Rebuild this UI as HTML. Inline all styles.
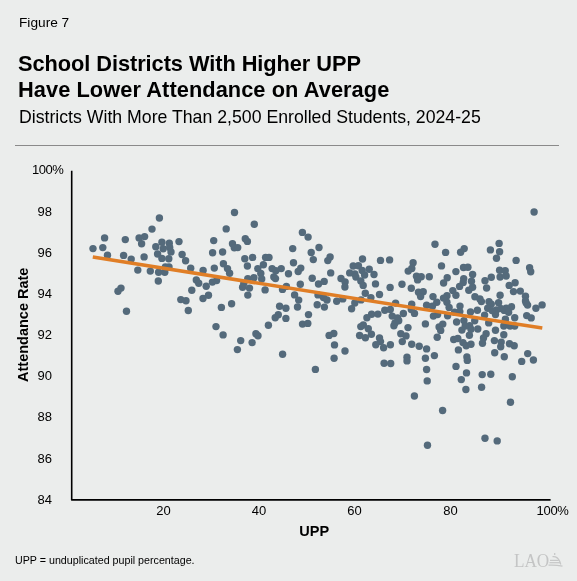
<!DOCTYPE html>
<html><head><meta charset="utf-8">
<style>
html,body{margin:0;padding:0;}
body{width:577px;height:581px;background:#ebedec;position:relative;overflow:hidden;font-family:"Liberation Sans",sans-serif;color:#000;}
.t{position:absolute;white-space:nowrap;will-change:transform;}
#fig{left:18.7px;top:15.4px;font-size:13.7px;}
.tt{font-size:21.8px;font-weight:bold;line-height:26px;left:18px;transform:scaleY(1.04);transform-origin:0 19px;}
#t1{top:50.5px;letter-spacing:-0.065px;}
#t2{top:76.5px;letter-spacing:0.06px;}
#sub{left:19px;top:107px;font-size:17.7px;}
#rule{position:absolute;left:15px;top:145px;width:544px;height:1px;background:#8a8a8a;}
svg{position:absolute;left:0;top:0;will-change:transform;}
.yl{font-size:13px;text-anchor:end;}
.xl{font-size:13px;text-anchor:middle;}
#note{left:15px;top:554px;font-size:10.7px;}
#lao{left:514px;top:550px;font-family:"Liberation Serif",serif;font-size:17.2px;color:#c4c5c5;letter-spacing:-0.1px;transform:scaleY(1.1);transform-origin:0 0;}
</style></head><body>
<div class="t" id="fig">Figure 7</div>
<div class="t tt" id="t1">School Districts With Higher UPP</div>
<div class="t tt" id="t2">Have Lower Attendance on Average</div>
<div class="t" id="sub">Districts With More Than 2,500 Enrolled Students, 2024-25</div>
<div id="rule"></div>
<svg width="577" height="581" viewBox="0 0 577 581" font-family="Liberation Sans, sans-serif">
<g class="yl">
<text x="63.4" y="174" letter-spacing="-0.45">100%</text>
<text x="52" y="215.5">98</text>
<text x="52" y="256.5">96</text>
<text x="52" y="297.5">94</text>
<text x="52" y="338.5">92</text>
<text x="52" y="379.5">90</text>
<text x="52" y="420.5">88</text>
<text x="52" y="463.2">86</text>
<text x="52" y="503.5">84</text>
</g>
<g class="xl">
<text x="163.4" y="515">20</text>
<text x="258.9" y="515">40</text>
<text x="354.5" y="515">60</text>
<text x="450.5" y="515">80</text>
<text x="552.6" y="515" letter-spacing="-0.3">100%</text>
</g>
<path d="M71.7 170.8 V499.9 H550.6" fill="none" stroke="#000" stroke-width="1.6" stroke-linejoin="round"/>
<text x="314.2" y="535.8" font-size="14.5" font-weight="bold" text-anchor="middle">UPP</text>
<text transform="translate(28.2 324.8) rotate(-90)" font-size="14.5" font-weight="bold" text-anchor="middle">Attendance Rate</text>
<g fill="#546a7b">
<circle cx="93.0" cy="248.6" r="3.7"/>
<circle cx="102.8" cy="247.6" r="3.7"/>
<circle cx="104.6" cy="237.9" r="3.7"/>
<circle cx="107.5" cy="255.2" r="3.7"/>
<circle cx="125.3" cy="239.6" r="3.7"/>
<circle cx="123.6" cy="255.4" r="3.7"/>
<circle cx="131.2" cy="259.1" r="3.7"/>
<circle cx="139.1" cy="237.9" r="3.7"/>
<circle cx="144.6" cy="236.6" r="3.7"/>
<circle cx="141.6" cy="243.8" r="3.7"/>
<circle cx="144.1" cy="256.9" r="3.7"/>
<circle cx="152.0" cy="229.1" r="3.7"/>
<circle cx="159.4" cy="218.0" r="3.7"/>
<circle cx="155.8" cy="246.7" r="3.7"/>
<circle cx="161.9" cy="242.3" r="3.7"/>
<circle cx="169.3" cy="243.2" r="3.7"/>
<circle cx="163.2" cy="248.8" r="3.7"/>
<circle cx="169.7" cy="247.5" r="3.7"/>
<circle cx="171.0" cy="251.9" r="3.7"/>
<circle cx="157.6" cy="254.0" r="3.7"/>
<circle cx="161.9" cy="258.4" r="3.7"/>
<circle cx="168.8" cy="258.8" r="3.7"/>
<circle cx="137.8" cy="270.1" r="3.7"/>
<circle cx="150.3" cy="271.1" r="3.7"/>
<circle cx="158.6" cy="272.2" r="3.7"/>
<circle cx="164.8" cy="272.2" r="3.7"/>
<circle cx="165.4" cy="267.0" r="3.7"/>
<circle cx="169.0" cy="267.0" r="3.7"/>
<circle cx="158.3" cy="281.0" r="3.7"/>
<circle cx="185.6" cy="260.7" r="3.7"/>
<circle cx="182.1" cy="254.5" r="3.7"/>
<circle cx="179.0" cy="241.6" r="3.7"/>
<circle cx="190.7" cy="268.3" r="3.7"/>
<circle cx="213.7" cy="240.6" r="3.7"/>
<circle cx="226.2" cy="228.9" r="3.7"/>
<circle cx="234.5" cy="212.5" r="3.7"/>
<circle cx="232.5" cy="243.7" r="3.7"/>
<circle cx="234.3" cy="247.8" r="3.7"/>
<circle cx="203.1" cy="270.4" r="3.7"/>
<circle cx="212.6" cy="252.7" r="3.7"/>
<circle cx="222.6" cy="252.0" r="3.7"/>
<circle cx="214.3" cy="268.1" r="3.7"/>
<circle cx="223.4" cy="263.7" r="3.7"/>
<circle cx="227.5" cy="268.6" r="3.7"/>
<circle cx="229.6" cy="273.3" r="3.7"/>
<circle cx="196.3" cy="280.0" r="3.7"/>
<circle cx="198.7" cy="283.2" r="3.7"/>
<circle cx="206.2" cy="286.3" r="3.7"/>
<circle cx="212.4" cy="282.1" r="3.7"/>
<circle cx="216.6" cy="280.6" r="3.7"/>
<circle cx="254.3" cy="224.2" r="3.7"/>
<circle cx="245.3" cy="238.7" r="3.7"/>
<circle cx="247.4" cy="241.4" r="3.7"/>
<circle cx="237.7" cy="247.6" r="3.7"/>
<circle cx="244.8" cy="258.7" r="3.7"/>
<circle cx="252.6" cy="257.4" r="3.7"/>
<circle cx="247.4" cy="266.0" r="3.7"/>
<circle cx="265.6" cy="257.4" r="3.7"/>
<circle cx="269.0" cy="257.4" r="3.7"/>
<circle cx="263.4" cy="264.7" r="3.7"/>
<circle cx="257.8" cy="268.6" r="3.7"/>
<circle cx="260.8" cy="273.4" r="3.7"/>
<circle cx="261.7" cy="279.0" r="3.7"/>
<circle cx="247.8" cy="278.6" r="3.7"/>
<circle cx="253.9" cy="277.7" r="3.7"/>
<circle cx="272.1" cy="268.6" r="3.7"/>
<circle cx="281.2" cy="268.6" r="3.7"/>
<circle cx="273.8" cy="276.9" r="3.7"/>
<circle cx="275.5" cy="278.6" r="3.7"/>
<circle cx="288.5" cy="273.8" r="3.7"/>
<circle cx="242.6" cy="287.3" r="3.7"/>
<circle cx="249.5" cy="288.1" r="3.7"/>
<circle cx="247.8" cy="295.1" r="3.7"/>
<circle cx="265.1" cy="289.9" r="3.7"/>
<circle cx="282.5" cy="289.4" r="3.7"/>
<circle cx="286.4" cy="286.4" r="3.7"/>
<circle cx="302.4" cy="232.4" r="3.7"/>
<circle cx="308.1" cy="237.1" r="3.7"/>
<circle cx="292.7" cy="248.6" r="3.7"/>
<circle cx="319.0" cy="247.5" r="3.7"/>
<circle cx="311.2" cy="252.5" r="3.7"/>
<circle cx="313.3" cy="259.6" r="3.7"/>
<circle cx="330.1" cy="257.0" r="3.7"/>
<circle cx="327.8" cy="260.6" r="3.7"/>
<circle cx="293.5" cy="262.7" r="3.7"/>
<circle cx="300.8" cy="268.1" r="3.7"/>
<circle cx="298.2" cy="271.5" r="3.7"/>
<circle cx="330.7" cy="272.9" r="3.7"/>
<circle cx="312.2" cy="278.3" r="3.7"/>
<circle cx="318.5" cy="284.0" r="3.7"/>
<circle cx="324.2" cy="281.4" r="3.7"/>
<circle cx="300.3" cy="284.3" r="3.7"/>
<circle cx="294.6" cy="294.9" r="3.7"/>
<circle cx="298.7" cy="300.1" r="3.7"/>
<circle cx="318.0" cy="294.9" r="3.7"/>
<circle cx="323.5" cy="297.5" r="3.7"/>
<circle cx="327.0" cy="300.0" r="3.7"/>
<circle cx="336.7" cy="301.2" r="3.7"/>
<circle cx="362.5" cy="259.0" r="3.7"/>
<circle cx="380.5" cy="260.4" r="3.7"/>
<circle cx="389.6" cy="259.9" r="3.7"/>
<circle cx="353.2" cy="266.0" r="3.7"/>
<circle cx="358.4" cy="265.8" r="3.7"/>
<circle cx="349.7" cy="272.9" r="3.7"/>
<circle cx="369.2" cy="269.3" r="3.7"/>
<circle cx="362.2" cy="270.5" r="3.7"/>
<circle cx="354.9" cy="274.0" r="3.7"/>
<circle cx="364.6" cy="275.0" r="3.7"/>
<circle cx="355.9" cy="277.1" r="3.7"/>
<circle cx="360.8" cy="280.9" r="3.7"/>
<circle cx="363.2" cy="285.4" r="3.7"/>
<circle cx="374.0" cy="274.5" r="3.7"/>
<circle cx="375.5" cy="283.9" r="3.7"/>
<circle cx="341.0" cy="278.5" r="3.7"/>
<circle cx="345.1" cy="282.0" r="3.7"/>
<circle cx="344.9" cy="287.0" r="3.7"/>
<circle cx="390.1" cy="287.4" r="3.7"/>
<circle cx="365.3" cy="293.3" r="3.7"/>
<circle cx="370.9" cy="297.6" r="3.7"/>
<circle cx="379.5" cy="294.5" r="3.7"/>
<circle cx="361.0" cy="299.9" r="3.7"/>
<circle cx="354.8" cy="303.0" r="3.7"/>
<circle cx="342.8" cy="298.9" r="3.7"/>
<circle cx="351.6" cy="308.8" r="3.7"/>
<circle cx="435.0" cy="244.2" r="3.7"/>
<circle cx="445.6" cy="252.4" r="3.7"/>
<circle cx="413.1" cy="262.8" r="3.7"/>
<circle cx="411.8" cy="268.5" r="3.7"/>
<circle cx="408.2" cy="271.1" r="3.7"/>
<circle cx="416.5" cy="276.3" r="3.7"/>
<circle cx="421.2" cy="276.8" r="3.7"/>
<circle cx="417.6" cy="279.9" r="3.7"/>
<circle cx="429.3" cy="276.8" r="3.7"/>
<circle cx="441.5" cy="265.9" r="3.7"/>
<circle cx="447.2" cy="277.8" r="3.7"/>
<circle cx="443.6" cy="283.0" r="3.7"/>
<circle cx="402.0" cy="284.3" r="3.7"/>
<circle cx="411.3" cy="288.2" r="3.7"/>
<circle cx="499.1" cy="243.4" r="3.7"/>
<circle cx="490.4" cy="249.9" r="3.7"/>
<circle cx="499.6" cy="251.7" r="3.7"/>
<circle cx="464.2" cy="248.6" r="3.7"/>
<circle cx="460.6" cy="252.2" r="3.7"/>
<circle cx="496.5" cy="258.3" r="3.7"/>
<circle cx="463.5" cy="267.5" r="3.7"/>
<circle cx="467.9" cy="267.2" r="3.7"/>
<circle cx="455.9" cy="271.6" r="3.7"/>
<circle cx="472.6" cy="274.4" r="3.7"/>
<circle cx="463.7" cy="278.6" r="3.7"/>
<circle cx="471.5" cy="281.2" r="3.7"/>
<circle cx="459.6" cy="286.4" r="3.7"/>
<circle cx="468.8" cy="290.2" r="3.7"/>
<circle cx="452.8" cy="290.6" r="3.7"/>
<circle cx="455.9" cy="295.2" r="3.7"/>
<circle cx="491.3" cy="277.2" r="3.7"/>
<circle cx="485.0" cy="280.7" r="3.7"/>
<circle cx="486.6" cy="288.0" r="3.7"/>
<circle cx="499.6" cy="270.3" r="3.7"/>
<circle cx="500.1" cy="277.0" r="3.7"/>
<circle cx="447.0" cy="295.8" r="3.7"/>
<circle cx="446.9" cy="302.3" r="3.7"/>
<circle cx="449.1" cy="307.4" r="3.7"/>
<circle cx="474.9" cy="296.7" r="3.7"/>
<circle cx="479.9" cy="299.0" r="3.7"/>
<circle cx="489.0" cy="301.8" r="3.7"/>
<circle cx="491.3" cy="304.1" r="3.7"/>
<circle cx="500.1" cy="295.2" r="3.7"/>
<circle cx="498.6" cy="302.8" r="3.7"/>
<circle cx="460.0" cy="306.1" r="3.7"/>
<circle cx="534.1" cy="212.0" r="3.7"/>
<circle cx="516.1" cy="260.4" r="3.7"/>
<circle cx="529.6" cy="267.7" r="3.7"/>
<circle cx="530.7" cy="271.8" r="3.7"/>
<circle cx="505.2" cy="270.8" r="3.7"/>
<circle cx="506.2" cy="276.0" r="3.7"/>
<circle cx="515.1" cy="282.8" r="3.7"/>
<circle cx="509.2" cy="285.4" r="3.7"/>
<circle cx="513.5" cy="291.6" r="3.7"/>
<circle cx="520.3" cy="291.1" r="3.7"/>
<circle cx="525.5" cy="296.3" r="3.7"/>
<circle cx="525.5" cy="301.0" r="3.7"/>
<circle cx="527.6" cy="305.1" r="3.7"/>
<circle cx="542.1" cy="304.9" r="3.7"/>
<circle cx="535.9" cy="308.2" r="3.7"/>
<circle cx="511.5" cy="306.8" r="3.7"/>
<circle cx="506.2" cy="308.2" r="3.7"/>
<circle cx="121.0" cy="288.1" r="3.7"/>
<circle cx="118.0" cy="291.2" r="3.7"/>
<circle cx="126.5" cy="311.2" r="3.7"/>
<circle cx="180.8" cy="299.6" r="3.7"/>
<circle cx="186.0" cy="300.8" r="3.7"/>
<circle cx="188.3" cy="310.5" r="3.7"/>
<circle cx="208.5" cy="295.2" r="3.7"/>
<circle cx="203.0" cy="298.5" r="3.7"/>
<circle cx="221.4" cy="307.4" r="3.7"/>
<circle cx="231.6" cy="303.7" r="3.7"/>
<circle cx="216.0" cy="326.6" r="3.7"/>
<circle cx="223.1" cy="334.9" r="3.7"/>
<circle cx="240.7" cy="340.6" r="3.7"/>
<circle cx="297.5" cy="307.0" r="3.7"/>
<circle cx="279.6" cy="306.2" r="3.7"/>
<circle cx="285.9" cy="308.3" r="3.7"/>
<circle cx="278.3" cy="314.8" r="3.7"/>
<circle cx="275.2" cy="317.7" r="3.7"/>
<circle cx="285.9" cy="318.4" r="3.7"/>
<circle cx="268.4" cy="325.2" r="3.7"/>
<circle cx="255.9" cy="333.7" r="3.7"/>
<circle cx="258.0" cy="335.8" r="3.7"/>
<circle cx="252.1" cy="342.6" r="3.7"/>
<circle cx="302.5" cy="324.1" r="3.7"/>
<circle cx="317.2" cy="304.7" r="3.7"/>
<circle cx="324.4" cy="307.1" r="3.7"/>
<circle cx="308.5" cy="314.6" r="3.7"/>
<circle cx="307.8" cy="323.4" r="3.7"/>
<circle cx="329.1" cy="335.4" r="3.7"/>
<circle cx="333.8" cy="333.5" r="3.7"/>
<circle cx="334.5" cy="344.9" r="3.7"/>
<circle cx="345.0" cy="351.0" r="3.7"/>
<circle cx="334.1" cy="358.2" r="3.7"/>
<circle cx="395.6" cy="303.1" r="3.7"/>
<circle cx="411.7" cy="304.2" r="3.7"/>
<circle cx="414.5" cy="313.4" r="3.7"/>
<circle cx="384.8" cy="310.2" r="3.7"/>
<circle cx="390.3" cy="309.5" r="3.7"/>
<circle cx="403.4" cy="313.5" r="3.7"/>
<circle cx="371.6" cy="314.3" r="3.7"/>
<circle cx="377.9" cy="314.1" r="3.7"/>
<circle cx="366.9" cy="317.7" r="3.7"/>
<circle cx="392.2" cy="316.1" r="3.7"/>
<circle cx="397.6" cy="318.0" r="3.7"/>
<circle cx="398.7" cy="320.8" r="3.7"/>
<circle cx="395.0" cy="322.9" r="3.7"/>
<circle cx="393.9" cy="325.8" r="3.7"/>
<circle cx="360.8" cy="326.6" r="3.7"/>
<circle cx="363.3" cy="325.0" r="3.7"/>
<circle cx="368.3" cy="328.7" r="3.7"/>
<circle cx="371.4" cy="334.2" r="3.7"/>
<circle cx="359.6" cy="335.5" r="3.7"/>
<circle cx="365.4" cy="337.8" r="3.7"/>
<circle cx="408.0" cy="327.6" r="3.7"/>
<circle cx="400.8" cy="333.8" r="3.7"/>
<circle cx="406.0" cy="335.9" r="3.7"/>
<circle cx="402.3" cy="341.6" r="3.7"/>
<circle cx="411.7" cy="344.2" r="3.7"/>
<circle cx="379.5" cy="338.0" r="3.7"/>
<circle cx="380.5" cy="341.6" r="3.7"/>
<circle cx="375.8" cy="344.7" r="3.7"/>
<circle cx="383.6" cy="347.8" r="3.7"/>
<circle cx="390.4" cy="344.7" r="3.7"/>
<circle cx="407.0" cy="357.2" r="3.7"/>
<circle cx="436.8" cy="302.2" r="3.7"/>
<circle cx="426.6" cy="305.2" r="3.7"/>
<circle cx="432.4" cy="306.2" r="3.7"/>
<circle cx="433.4" cy="316.1" r="3.7"/>
<circle cx="437.6" cy="314.6" r="3.7"/>
<circle cx="425.4" cy="323.9" r="3.7"/>
<circle cx="439.1" cy="327.0" r="3.7"/>
<circle cx="437.2" cy="337.2" r="3.7"/>
<circle cx="453.7" cy="339.5" r="3.7"/>
<circle cx="457.8" cy="338.5" r="3.7"/>
<circle cx="463.0" cy="342.6" r="3.7"/>
<circle cx="466.2" cy="345.8" r="3.7"/>
<circle cx="458.4" cy="349.9" r="3.7"/>
<circle cx="419.2" cy="346.3" r="3.7"/>
<circle cx="426.6" cy="348.9" r="3.7"/>
<circle cx="434.4" cy="355.6" r="3.7"/>
<circle cx="425.4" cy="358.2" r="3.7"/>
<circle cx="466.9" cy="356.9" r="3.7"/>
<circle cx="467.3" cy="360.4" r="3.7"/>
<circle cx="443.5" cy="298.1" r="3.7"/>
<circle cx="454.6" cy="312.3" r="3.7"/>
<circle cx="459.8" cy="311.6" r="3.7"/>
<circle cx="447.6" cy="315.8" r="3.7"/>
<circle cx="470.5" cy="312.0" r="3.7"/>
<circle cx="477.4" cy="310.3" r="3.7"/>
<circle cx="456.6" cy="322.0" r="3.7"/>
<circle cx="463.9" cy="320.6" r="3.7"/>
<circle cx="474.7" cy="320.7" r="3.7"/>
<circle cx="469.6" cy="325.6" r="3.7"/>
<circle cx="461.9" cy="330.1" r="3.7"/>
<circle cx="442.8" cy="324.1" r="3.7"/>
<circle cx="440.7" cy="330.4" r="3.7"/>
<circle cx="477.8" cy="329.0" r="3.7"/>
<circle cx="469.4" cy="335.3" r="3.7"/>
<circle cx="481.4" cy="301.6" r="3.7"/>
<circle cx="487.7" cy="308.3" r="3.7"/>
<circle cx="496.5" cy="309.9" r="3.7"/>
<circle cx="495.5" cy="314.6" r="3.7"/>
<circle cx="504.3" cy="310.4" r="3.7"/>
<circle cx="508.6" cy="312.2" r="3.7"/>
<circle cx="484.6" cy="315.1" r="3.7"/>
<circle cx="514.7" cy="317.7" r="3.7"/>
<circle cx="488.7" cy="322.9" r="3.7"/>
<circle cx="505.4" cy="319.2" r="3.7"/>
<circle cx="503.8" cy="326.0" r="3.7"/>
<circle cx="510.0" cy="326.0" r="3.7"/>
<circle cx="514.7" cy="326.0" r="3.7"/>
<circle cx="471.0" cy="329.2" r="3.7"/>
<circle cx="495.5" cy="330.2" r="3.7"/>
<circle cx="503.8" cy="334.8" r="3.7"/>
<circle cx="486.1" cy="333.8" r="3.7"/>
<circle cx="483.5" cy="338.0" r="3.7"/>
<circle cx="482.5" cy="343.2" r="3.7"/>
<circle cx="494.4" cy="340.6" r="3.7"/>
<circle cx="501.2" cy="342.1" r="3.7"/>
<circle cx="500.7" cy="346.8" r="3.7"/>
<circle cx="509.5" cy="343.7" r="3.7"/>
<circle cx="514.2" cy="345.8" r="3.7"/>
<circle cx="471.0" cy="344.2" r="3.7"/>
<circle cx="494.7" cy="352.8" r="3.7"/>
<circle cx="504.3" cy="356.7" r="3.7"/>
<circle cx="526.2" cy="303.1" r="3.7"/>
<circle cx="526.7" cy="315.6" r="3.7"/>
<circle cx="527.7" cy="353.6" r="3.7"/>
<circle cx="531.2" cy="317.9" r="3.7"/>
<circle cx="533.4" cy="360.0" r="3.7"/>
<circle cx="521.7" cy="361.4" r="3.7"/>
<circle cx="237.4" cy="349.6" r="3.7"/>
<circle cx="282.6" cy="354.3" r="3.7"/>
<circle cx="315.4" cy="369.4" r="3.7"/>
<circle cx="384.1" cy="363.3" r="3.7"/>
<circle cx="390.7" cy="363.5" r="3.7"/>
<circle cx="407.0" cy="360.9" r="3.7"/>
<circle cx="426.6" cy="369.5" r="3.7"/>
<circle cx="427.2" cy="380.9" r="3.7"/>
<circle cx="414.4" cy="396.0" r="3.7"/>
<circle cx="456.0" cy="366.4" r="3.7"/>
<circle cx="466.5" cy="372.9" r="3.7"/>
<circle cx="461.3" cy="379.6" r="3.7"/>
<circle cx="465.9" cy="389.5" r="3.7"/>
<circle cx="482.2" cy="374.6" r="3.7"/>
<circle cx="490.8" cy="374.2" r="3.7"/>
<circle cx="512.3" cy="376.7" r="3.7"/>
<circle cx="481.6" cy="387.2" r="3.7"/>
<circle cx="510.5" cy="402.3" r="3.7"/>
<circle cx="442.6" cy="410.5" r="3.7"/>
<circle cx="427.5" cy="445.2" r="3.7"/>
<circle cx="485.0" cy="438.2" r="3.7"/>
<circle cx="497.2" cy="440.9" r="3.7"/>
<circle cx="275.8" cy="270.8" r="3.7"/>
<circle cx="463.2" cy="282.4" r="3.7"/>
<circle cx="472.6" cy="287.3" r="3.7"/>
<circle cx="492.1" cy="310.6" r="3.7"/>
<circle cx="501.2" cy="308.6" r="3.7"/>
<circle cx="418.5" cy="292.3" r="3.7"/>
<circle cx="423.2" cy="291.8" r="3.7"/>
<circle cx="420.6" cy="296.6" r="3.7"/>
<circle cx="433.0" cy="296.6" r="3.7"/>
<circle cx="191.8" cy="290.2" r="3.7"/>
<circle cx="243.8" cy="283.6" r="3.7"/>
<circle cx="411.3" cy="309.6" r="3.7"/>
<circle cx="465.2" cy="326.0" r="3.7"/>
</g>
<line x1="92.8" y1="257.1" x2="542.3" y2="328.1" stroke="#e07e26" stroke-width="3.5"/>
</svg>
<div class="t" id="note">UPP = unduplicated pupil percentage.</div>
<div class="t" id="lao">LAO</div>
<svg width="577" height="581" style="position:absolute;left:0;top:0">
<g fill="none" stroke="#c6c7c7" stroke-width="1.25">
<path d="M554.7 553 v2"/>
<path d="M552.5 556.6 Q557.5 556 559.8 561.5 L560.8 564.5"/>
<path d="M550 560.4 h8.8"/>
<path d="M549.5 562.7 h10.5"/>
<path d="M548.5 565.2 Q555 564.6 562.5 566.2"/>
</g></svg>
</body></html>
